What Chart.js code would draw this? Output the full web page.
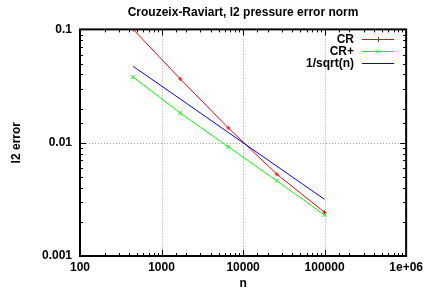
<!DOCTYPE html>
<html>
<head>
<meta charset="utf-8">
<script src="https://cdn.jsdelivr.net/npm/chart.js@4/dist/chart.umd.min.js"></script>
<style>
html, body { margin: 0; padding: 0; background: #fff; }
</style>
</head>
<body>
<canvas id="ErrorChart" width="427" height="291"></canvas>
<script>
var nValues = [450, 1700, 6600, 26000, 100000];
var crError = [0.1, 0.0365, 0.0135, 0.00527, 0.00243];
var crPlusError = [0.038, 0.0183, 0.0092, 0.00461, 0.0023];
var sqrtError = [0.0471, 0.0243, 0.0123, 0.0062, 0.00316];
var seriesNames = ['CR', 'CR+', '1/sqrt(n)'];
var xTickLabels = ['100', '1000', '10000', '100000', '1e+06'];
var yTickLabels = ['0.001', '0.01', '0.1'];

var FONT = 'Liberation Sans';

function toPoints(ys) {
    var pts = [];
    for (var i = 0; i < nValues.length; i++) {
        pts.push({ x: nValues[i], y: ys[i] });
    }
    return pts;
}

function decade(v) {
    var p = Math.round(Math.log10(v));
    if (Math.abs(v - Math.pow(10, p)) / v < 1e-9) return p;
    return null;
}

// gnuplot like frame: dotted grid, border, inward ticks
var framePlugin = {
    id: 'frame',
    beforeDatasetsDraw: function (chart) {
        var ctx = chart.ctx, a = chart.chartArea;
        ctx.save();
        ctx.strokeStyle = '#a0a0a0';
        ctx.lineWidth = 1;
        ctx.setLineDash([1, 2]);
        chart.scales.x.ticks.forEach(function (t) {
            if (decade(t.value) === null) return;
            var px = Math.round(chart.scales.x.getPixelForValue(t.value)) + 0.5;
            if (px < a.left + 2 || px > a.right - 2) return;
            ctx.beginPath(); ctx.moveTo(px, a.top); ctx.lineTo(px, a.bottom); ctx.stroke();
        });
        chart.scales.y.ticks.forEach(function (t) {
            if (decade(t.value) === null) return;
            var py = Math.round(chart.scales.y.getPixelForValue(t.value)) + 0.5;
            if (py < a.top + 2 || py > a.bottom - 2) return;
            ctx.beginPath(); ctx.moveTo(a.left, py); ctx.lineTo(a.right, py); ctx.stroke();
        });
        ctx.restore();
    },
    afterDatasetsDraw: function (chart) {
        var ctx = chart.ctx, a = chart.chartArea;
        ctx.save();
        ctx.strokeStyle = '#000';
        ctx.lineWidth = 1;
        chart.scales.x.ticks.forEach(function (t) {
            var len = decade(t.value) === null ? 3 : 6;
            var px = Math.round(chart.scales.x.getPixelForValue(t.value)) + 0.5;
            ctx.beginPath();
            ctx.moveTo(px, a.bottom); ctx.lineTo(px, a.bottom - len);
            ctx.moveTo(px, a.top); ctx.lineTo(px, a.top + len);
            ctx.stroke();
        });
        chart.scales.y.ticks.forEach(function (t) {
            var len = decade(t.value) === null ? 3 : 6;
            var py = Math.round(chart.scales.y.getPixelForValue(t.value)) + 0.5;
            ctx.beginPath();
            ctx.moveTo(a.left, py); ctx.lineTo(a.left + len, py);
            ctx.moveTo(a.right, py); ctx.lineTo(a.right - len, py);
            ctx.stroke();
        });
        ctx.lineWidth = 2;
        ctx.strokeRect(a.left, a.top, a.right - a.left, a.bottom - a.top);
        ctx.restore();
    },
    afterDraw: function (chart) {
        // legend, gnuplot style: text right aligned, sample on the right
        var ctx = chart.ctx;
        var textRight = 354, x0 = 362, x1 = 394, y = 39;
        ctx.save();
        ctx.font = 'bold 12px "' + FONT + '"';
        ctx.textAlign = 'right';
        ctx.textBaseline = 'middle';
        chart.data.datasets.forEach(function (ds) {
            ctx.fillStyle = '#000';
            ctx.fillText(ds.label, textRight, y + 0.5);
            ctx.strokeStyle = ds.borderColor;
            ctx.lineWidth = 1;
            ctx.beginPath(); ctx.moveTo(x0, y + 0.5); ctx.lineTo(x1, y + 0.5); ctx.stroke();
            var mx = (x0 + x1) / 2, r = 2;
            if (ds.pointStyle === 'cross') {
                ctx.beginPath();
                ctx.moveTo(mx - r, y + 0.5); ctx.lineTo(mx + r, y + 0.5);
                ctx.moveTo(mx + 0.5, y - r); ctx.lineTo(mx + 0.5, y + r + 1);
                ctx.stroke();
            } else if (ds.pointStyle === 'crossRot') {
                ctx.beginPath();
                ctx.moveTo(mx - r, y - r + 0.5); ctx.lineTo(mx + r, y + r + 0.5);
                ctx.moveTo(mx - r, y + r + 0.5); ctx.lineTo(mx + r, y - r + 0.5);
                ctx.stroke();
            }
            y += 12;
        });
        ctx.restore();
    }
};

new Chart(document.getElementById('ErrorChart'), {
    type: 'scatter',
    data: {
        datasets: [
            {
                label: seriesNames[0],
                data: toPoints(crError),
                showLine: true,
                borderColor: '#ff0000',
                backgroundColor: '#ff0000',
                borderWidth: 1,
                pointStyle: 'cross',
                pointRadius: 2,
                pointBorderWidth: 1,
                order: 2
            },
            {
                label: seriesNames[1],
                data: toPoints(crPlusError),
                showLine: true,
                borderColor: '#00ff00',
                backgroundColor: '#00ff00',
                borderWidth: 1,
                pointStyle: 'crossRot',
                pointRadius: 2.8,
                pointBorderWidth: 1,
                order: 1
            },
            {
                label: seriesNames[2],
                data: toPoints(sqrtError),
                showLine: true,
                borderColor: '#0000ff',
                backgroundColor: '#0000ff',
                borderWidth: 1,
                pointRadius: 0,
                order: 0
            }
        ]
    },
    options: {
        responsive: false,
        animation: false,
        devicePixelRatio: 1,
        layout: { padding: { left: 0, right: 19, top: 0, bottom: 0 } },
        plugins: {
            legend: { display: false },
            tooltip: { enabled: false },
            title: {
                display: true,
                fullSize: false,
                text: 'Crouzeix-Raviart, l2 pressure error norm',
                color: '#000',
                font: { family: FONT, size: 12, weight: 'bold' },
                padding: { top: 5, bottom: 10 }
            }
        },
        scales: {
            x: {
                type: 'logarithmic',
                min: 100,
                max: 1000000,
                afterFit: function (s) { s.height = 35; },
                grid: { display: false, drawTicks: false, tickLength: 0 },
                border: { display: false },
                ticks: {
                    autoSkip: false,
                    maxRotation: 0,
                    padding: 4,
                    color: '#000',
                    font: { family: FONT, size: 12, weight: 'bold' },
                    callback: function (v) {
                        var p = decade(v);
                        return p === null ? '' : xTickLabels[p - 2];
                    }
                },
                title: {
                    display: true,
                    text: 'n',
                    color: '#000',
                    font: { family: FONT, size: 12, weight: 'bold' },
                    padding: { top: 0, bottom: 0 }
                }
            },
            y: {
                type: 'logarithmic',
                min: 0.001,
                max: 0.1,
                afterFit: function (s) { s.width = 80; },
                grid: { display: false, drawTicks: false, tickLength: 0 },
                border: { display: false },
                ticks: {
                    autoSkip: false,
                    padding: 8,
                    color: '#000',
                    font: { family: FONT, size: 12, weight: 'bold' },
                    callback: function (v) {
                        var p = decade(v);
                        return p === null ? '' : yTickLabels[p + 3];
                    }
                },
                title: {
                    display: true,
                    text: 'l2 error',
                    color: '#000',
                    font: { family: FONT, size: 12, weight: 'bold' },
                    padding: { top: 9, bottom: 0 }
                }
            }
        }
    },
    plugins: [framePlugin]
});
</script>
</body>
</html>
